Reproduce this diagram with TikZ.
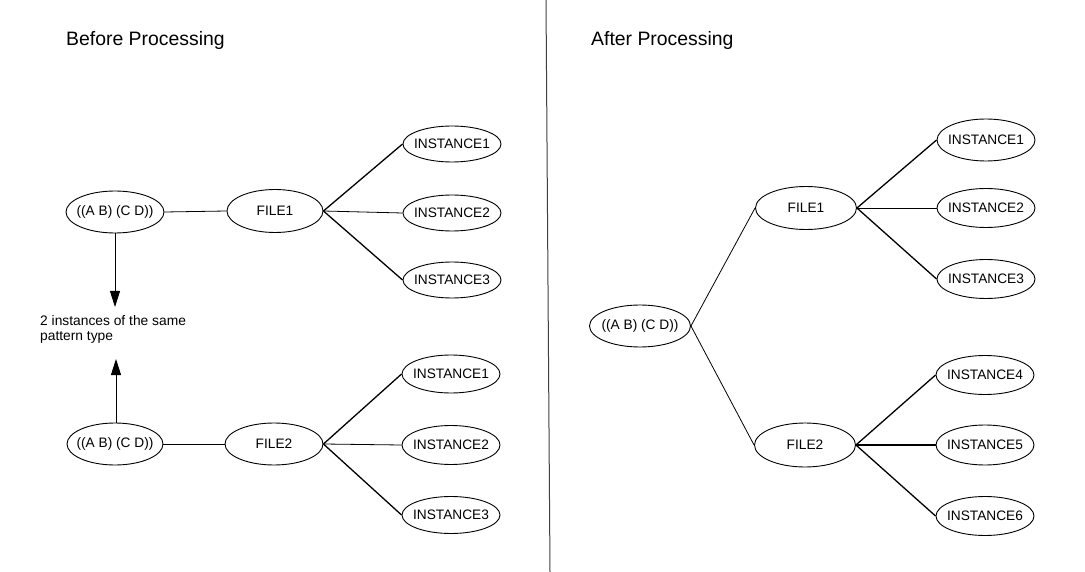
\documentclass[tikz,border=0pt]{standalone}
\usepackage{fontspec}
\setmainfont{Liberation Sans}
\usetikzlibrary{shapes.geometric,arrows.meta}
\begin{document}
\begin{tikzpicture}[x=1pt,y=-1pt,
  ov/.style={draw=black, line width=0.9pt, ellipse, inner xsep=-12pt, inner ysep=-5pt, font=\fontsize{13.7}{15}\selectfont},
  inst/.style={ov, minimum width=98pt},
  conn/.style={draw=black, line width=1.3pt},
  thin/.style={draw=black, line width=0.8pt},
  title/.style={anchor=base west, inner sep=0pt, font=\fontsize{19.4}{22}\selectfont},
  bigarrow/.style={draw=black, line width=0.9pt, -{Triangle[length=16pt,width=10pt]}}
]
\useasboundingbox (0,0) rectangle (1085,572);
\fill[white] (0,0) rectangle (1085,572);

% titles
\node[title] (tb) at (66,46) {Before Processing};
\node[title] (ta) at (591,46) {After Processing};

% divider
\coordinate (dtop) at (546,0);
\coordinate (dbot) at (550,572);
\draw[black!75, line width=1pt] (dtop) -- (dbot);

% ---- left, top group
\node[ov, minimum width=98pt, minimum height=42pt] (lp1) at (115,212) {((A B) (C D))};
\node[ov, minimum width=96pt, minimum height=43pt] (lf1) at (275,211) {FILE1};
\node[inst, minimum height=36pt] (li1) at (452,144) {INSTANCE1};
\node[inst, minimum height=36pt] (li2) at (452,213) {INSTANCE2};
\node[inst, minimum height=36pt] (li3) at (452,280) {INSTANCE3};

% ---- left, bottom group
\node[ov, minimum width=96pt, minimum height=42pt] (lp2) at (115,444) {((A B) (C D))};
\node[ov, minimum width=98pt, minimum height=42pt] (lf2) at (274,444) {FILE2};
\node[inst, minimum height=38pt] (lj1) at (451,374) {INSTANCE1};
\node[inst, minimum height=39pt] (lj2) at (451,445) {INSTANCE2};
\node[inst, minimum height=37pt] (lj3) at (451,515) {INSTANCE3};

% note and arrows
\node[anchor=north west, inner sep=0pt, align=left, font=\fontsize{13.8}{15}\selectfont] (note) at (40,315) {2 instances of the same\\pattern type};
\coordinate (tip1) at (115,307);
\coordinate (tip2) at (116,359);
\draw[bigarrow] (lp1.south) -- (tip1);
\draw[bigarrow] (lp2.north -| tip2) -- (tip2);

\draw[thin] (lp1.east) -- (lf1.west);
\draw[conn] (lf1.east) -- (li1.west);
\draw[thin] (lf1.east) -- (li2.west);
\draw[conn] (lf1.east) -- (li3.west);

\draw[thin] (lp2.east) -- (lf2.west);
\draw[conn] (lf2.east) -- (lj1.west);
\draw[thin] (lf2.east) -- (lj2.west);
\draw[conn] (lf2.east) -- (lj3.west);

% ---- right
\node[ov, minimum width=101pt, minimum height=42pt] (rp) at (640,326) {((A B) (C D))};
\node[ov, minimum width=101pt, minimum height=43pt] (rf1) at (806,208) {FILE1};
\node[ov, minimum width=101pt, minimum height=44pt] (rf2) at (805,445) {FILE2};
\node[inst, minimum height=42pt] (ri1) at (986,140) {INSTANCE1};
\node[inst, minimum height=39pt] (ri2) at (986,208) {INSTANCE2};
\node[inst, minimum height=39pt] (ri3) at (986,279) {INSTANCE3};
\node[inst, minimum height=39pt] (ri4) at (985,375) {INSTANCE4};
\node[inst, minimum height=40pt] (ri5) at (985,445) {INSTANCE5};
\node[inst, minimum height=39pt] (ri6) at (985,516) {INSTANCE6};

\draw[thin] (rp.east) -- (rf1.west);
\draw[thin] (rp.east) -- (rf2.west);
\draw[conn] (rf1.east) -- (ri1.west);
\draw[thin] (rf1.east) -- (ri2.west);
\draw[conn] (rf1.east) -- (ri3.west);
\draw[conn] (rf2.east) -- (ri4.west);
\draw[draw=black, line width=1.7pt] (rf2.east) -- (ri5.west);
\draw[conn] (rf2.east) -- (ri6.west);
\end{tikzpicture}
\end{document}
